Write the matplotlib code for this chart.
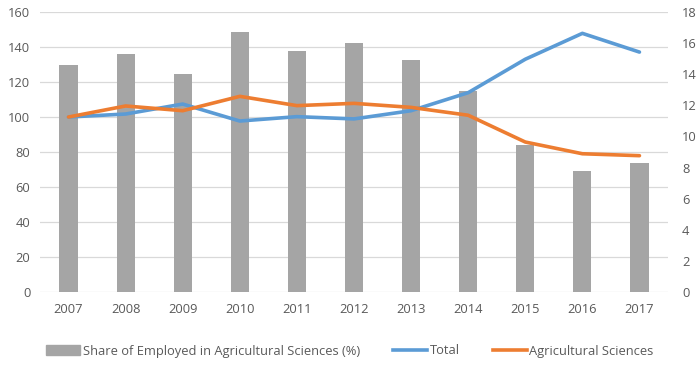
import matplotlib.pyplot as plt
from matplotlib.patches import Patch
from matplotlib.lines import Line2D

# データ
years = ['2007', '2008', '2009', '2010', '2011', '2012',
         '2013', '2014', '2015', '2016', '2017']
share = [14.6, 15.3, 14.0, 16.7, 15.5, 16.0, 14.9, 12.9, 9.45, 7.8, 8.3]
total = [100, 101.7, 107.4, 97.7, 100.2, 98.9, 103.6, 113.9, 133, 147.8, 137.1]
agri = [100, 106.3, 103.6, 111.8, 106.5, 107.8, 105.5, 101, 85.7, 79, 77.9]

grey = '#A5A5A5'
blue = '#5B9BD5'
orange = '#ED7D31'
txt = '#595959'

plt.rcParams['font.family'] = ['Open Sans', 'DejaVu Sans']

fig = plt.figure(figsize=(7, 3.65), dpi=100)
ax = fig.add_axes([40 / 700, 1 - 292 / 365, 628 / 700, 280 / 365])
ax2 = ax.twinx()

x = list(range(len(years)))

# 棒グラフ(右軸)
ax2.bar(x, share, width=0.32, color=grey, zorder=2)
ax2.set_ylim(0, 18)
ax2.set_yticks(range(0, 19, 2))

# 折れ線(左軸)
ax.plot(x, total, color=blue, lw=2.6, solid_capstyle='round', zorder=3)
ax.plot(x, agri, color=orange, lw=2.6, solid_capstyle='round', zorder=3)
ax.set_ylim(0, 160)
ax.set_yticks(range(0, 161, 20))
ax.set_xlim(-0.5, len(years) - 0.5)
ax.set_xticks(x)
ax.set_xticklabels(years)

# 左軸を前面に
ax.set_zorder(ax2.get_zorder() + 1)
ax.patch.set_visible(False)

for a in (ax, ax2):
    for s in a.spines.values():
        s.set_visible(False)
    a.tick_params(length=0, labelsize=9.3, colors=txt)
ax.tick_params(axis='x', pad=8)
ax.tick_params(axis='y', pad=7)
ax2.tick_params(axis='y', pad=10)

# 目盛線は棒の下に
for v in range(0, 161, 20):
    ax2.axhline(v * 18 / 160, color='#D9D9D9', lw=0.9, zorder=1)

handles = [Patch(color=grey),
           Line2D([0], [0], color=blue, lw=2.6),
           Line2D([0], [0], color=orange, lw=2.6)]
labels = ['Share of Employed in Agricultural Sciences (%)', 'Total',
          'Agricultural Sciences']
fig.legend(handles, labels, loc='center', bbox_to_anchor=(0.5, 1 - 351 / 365),
           ncol=3, frameon=False, fontsize=9.3, labelcolor=txt,
           handlelength=2.6, handletextpad=0.2, columnspacing=2.6)

fig.savefig('out.png', dpi=100)
